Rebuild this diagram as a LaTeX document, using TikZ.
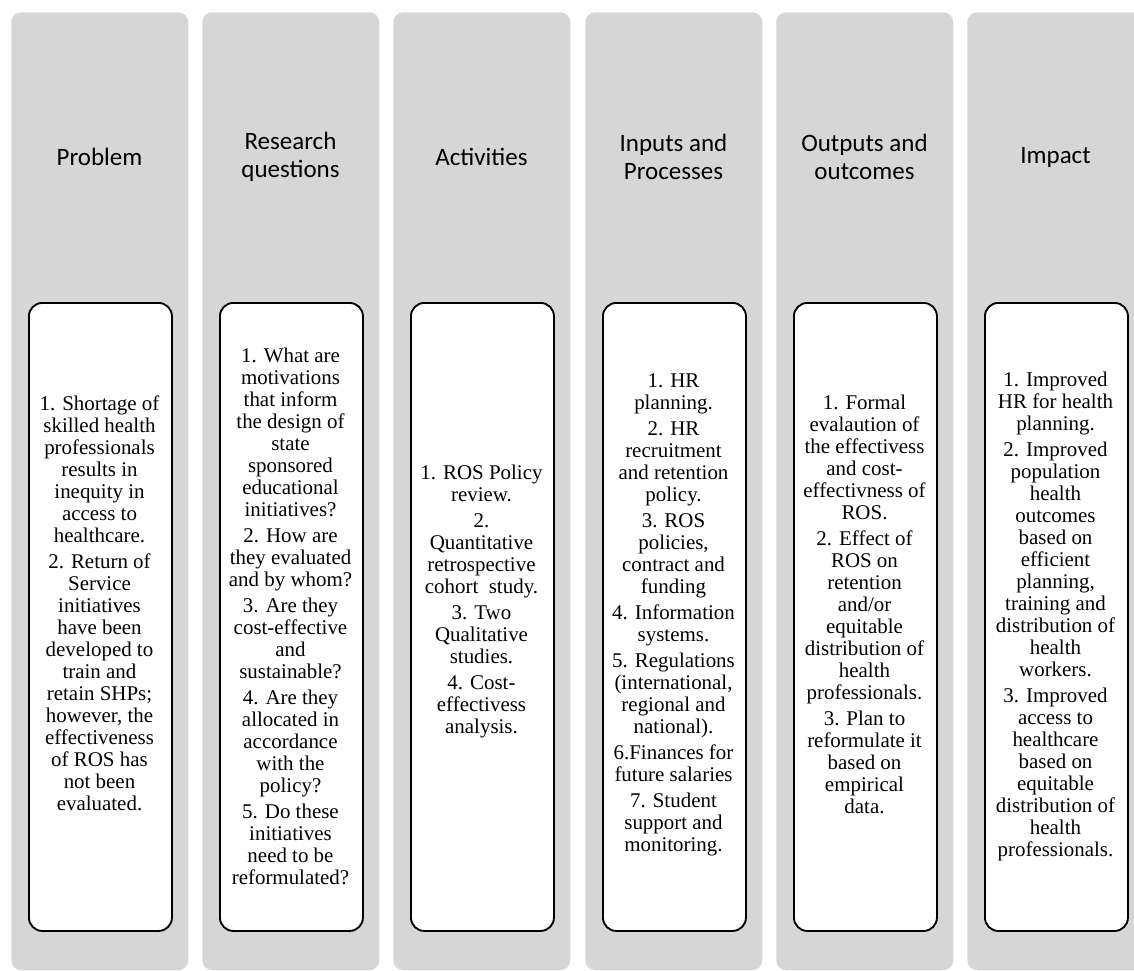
\documentclass[tikz,border=0pt]{standalone}
\usepackage{fontspec}
\setmainfont{Liberation Serif}
\newfontfamily\headfont{Carlito}
\definecolor{colgrey}{HTML}{D6D6D6}

\begin{document}
\begin{tikzpicture}[x=0.75pt,y=-0.75pt,
    column/.style={fill=colgrey, rounded corners=7.5pt, minimum width=132.75pt, minimum height=718.5pt, inner sep=0pt, anchor=north west},
    heading/.style={font=\headfont\fontsize{18.75pt}{21pt}\selectfont, align=center},
    itembox/.style={draw=black, fill=white, line width=1.4pt, rounded corners=10pt, minimum width=107.25pt, minimum height=471pt, inner sep=0pt, anchor=north west},
    itemtext/.style={font=\fontsize{15.7pt}{16.5pt}\selectfont, align=center, inner sep=0pt}]

    \useasboundingbox (0,0) rectangle (1134,970);

    % grey columns
    \node[column] (col1) at (11,12) {};
    \node[column] (col2) at (202,12) {};
    \node[column] (col3) at (393,12) {};
    \node[column] (col4) at (585,12) {};
    \node[column] (col5) at (776,12) {};
    \node[column] (col6) at (967,12) {};

    % headings
    \node[heading] (head1) at (99.5,157) {Problem};
    \node[heading] (head2) at (290.5,157) {Research\\questions};
    \node[heading] (head3) at (481.5,157) {Activities};
    \node[heading] (head4) at (673.5,157) {Inputs and\\Processes};
    \node[heading] (head5) at (864.5,157) {Outputs and\\outcomes};
    \node[heading] (head6) at (1055.5,157) {Impact};

    % white boxes
    \node[itembox] (box1) at (28,302) {};
    \node[itembox] (box2) at (219,302) {};
    \node[itembox] (box3) at (410,302) {};
    \node[itembox] (box4) at (602,302) {};
    \node[itembox] (box5) at (793,302) {};
    \node[itembox] (box6) at (984,302) {};

    % texts
    \node[itemtext] (text1) at (99.5,603) {1. Shortage of\\skilled health\\professionals\\results in\\inequity in\\access to\\healthcare.\\[3pt]
      2. Return of\\Service\\initiatives\\have been\\developed to\\train and\\retain SHPs;\\however, the\\effectiveness\\of ROS has\\not been\\evaluated.};
    \node[itemtext] (text2) at (290.5,616) {1. What are\\motivations\\that inform\\the design of\\state\\sponsored\\educational\\initiatives?\\[3pt]
      2. How are\\they evaluated\\and by whom?\\[3pt]
      3. Are they\\cost-effective\\and\\sustainable?\\[3pt]
      4. Are they\\allocated in\\accordance\\with the\\policy?\\[3pt]
      5. Do these\\initiatives\\need to be\\reformulated?};
    \node[itemtext] (text3) at (481.5,601) {1. ROS Policy\\review.\\[3pt]
      2.\\Quantitative\\retrospective\\cohort~~study.\\[3pt]
      3. Two\\Qualitative\\studies.\\[3pt]
      4. Cost-\\effectivess\\analysis.};
    \node[itemtext] (text4) at (673.5,615) {1. HR\\planning.\\[3pt]
      2. HR\\recruitment\\and retention\\policy.\\[3pt]
      3. ROS\\policies,\\contract and\\funding\\[3pt]
      4. Information\\systems.\\[3pt]
      5. Regulations\\(international,\\regional and\\national).\\[3pt]
      6.Finances for\\future salaries\\[3pt]
      7. Student\\support and\\monitoring.};
    \node[itemtext] (text5) at (864.5,604) {1. Formal\\evalaution of\\the effectivess\\and cost-\\effectivness of\\ROS.\\[3pt]
      2. Effect of\\ROS on\\retention\\and/or\\equitable\\distribution of\\health\\professionals.\\[3pt]
      3. Plan to\\reformulate it\\based on\\empirical\\data.};
    \node[itemtext] (text6) at (1055.5,616) {1. Improved\\HR for health\\planning.\\[3pt]
      2. Improved\\population\\health\\outcomes\\based on\\efficient\\planning,\\training and\\distribution of\\health\\workers.\\[3pt]
      3. Improved\\access to\\healthcare\\based on\\equitable\\distribution of\\health\\professionals.};
  \end{tikzpicture}
\end{document}
